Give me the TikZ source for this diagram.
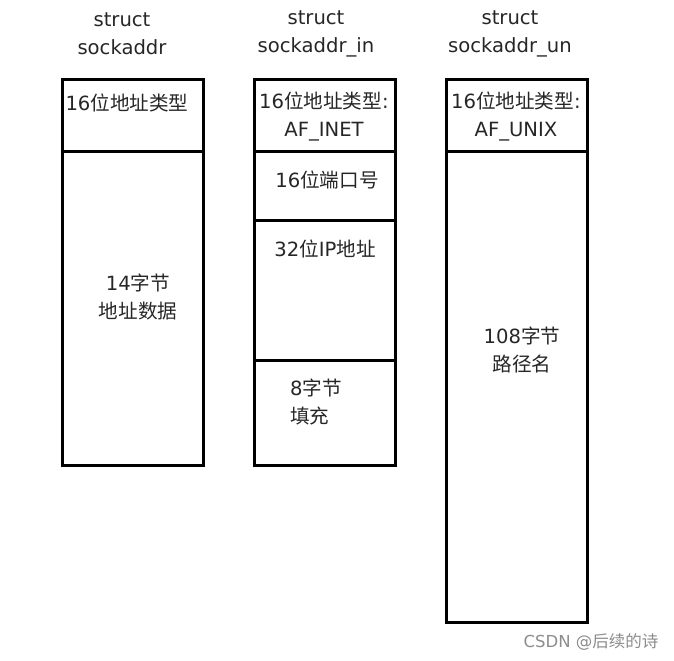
\documentclass[tikz,border=0pt]{standalone}
\usepackage{fontspec}
\setmainfont{DejaVu Sans}
\newfontfamily\cjk{Noto Sans CJK SC}
\newcommand{\zh}[1]{{\cjk #1}}

\begin{document}
\begin{tikzpicture}[x=1bp, y=-1bp]
    % Define styles
    \tikzstyle{field} = [draw=black, line width=3bp]
    \tikzstyle{txt} = [inner sep=0pt, align=center, font=\fontsize{19.6bp}{28bp}\selectfont, text=black!85]
    \tikzstyle{watermark} = [inner sep=0pt, font=\fontsize{16.5bp}{18bp}\selectfont, text=black!45]

    \useasboundingbox (0,0) rectangle (674,661);

    % struct sockaddr
    \draw [field] (62,80) rectangle (203,465);
    \draw [field] (62,151) -- (203,151);
    \node [txt] (saTitle) at (122,34) {struct\\sockaddr};
    \node [txt] (saFamily) at (127,103) {16\zh{位地址类型}};
    \node [txt] (saData) at (138,297) {14\zh{字节}\\\zh{地址数据}};

    % struct sockaddr_in
    \draw [field] (254,80) rectangle (395,465);
    \draw [field] (254,151) -- (395,151);
    \draw [field] (254,220) -- (395,220);
    \draw [field] (254,360) -- (395,360);
    \node [txt] (inTitle) at (316,34) {struct\\sockaddr\_in};
    \node [txt] (inFamily) at (324,117) {16\zh{位地址类型}:\\AF\_INET};
    \node [txt] (inPort) at (327,180) {16\zh{位端口号}};
    \node [txt] (inAddr) at (325,249) {32\zh{位}IP\zh{地址}};
    \node [txt, align=left, anchor=west] (inZero) at (290,402) {8\zh{字节}\\\zh{填充}};

    % struct sockaddr_un
    \draw [field] (446,80) rectangle (587,622);
    \draw [field] (446,151) -- (587,151);
    \node [txt] (unTitle) at (510,34) {struct\\sockaddr\_un};
    \node [txt] (unFamily) at (516,117) {16\zh{位地址类型}:\\AF\_UNIX};
    \node [txt] (unPath) at (522,350) {108\zh{字节}\\\zh{路径名}};

    \node [watermark] (csdn) at (591,642) {CSDN @\zh{后续的诗}};
\end{tikzpicture}
\end{document}
